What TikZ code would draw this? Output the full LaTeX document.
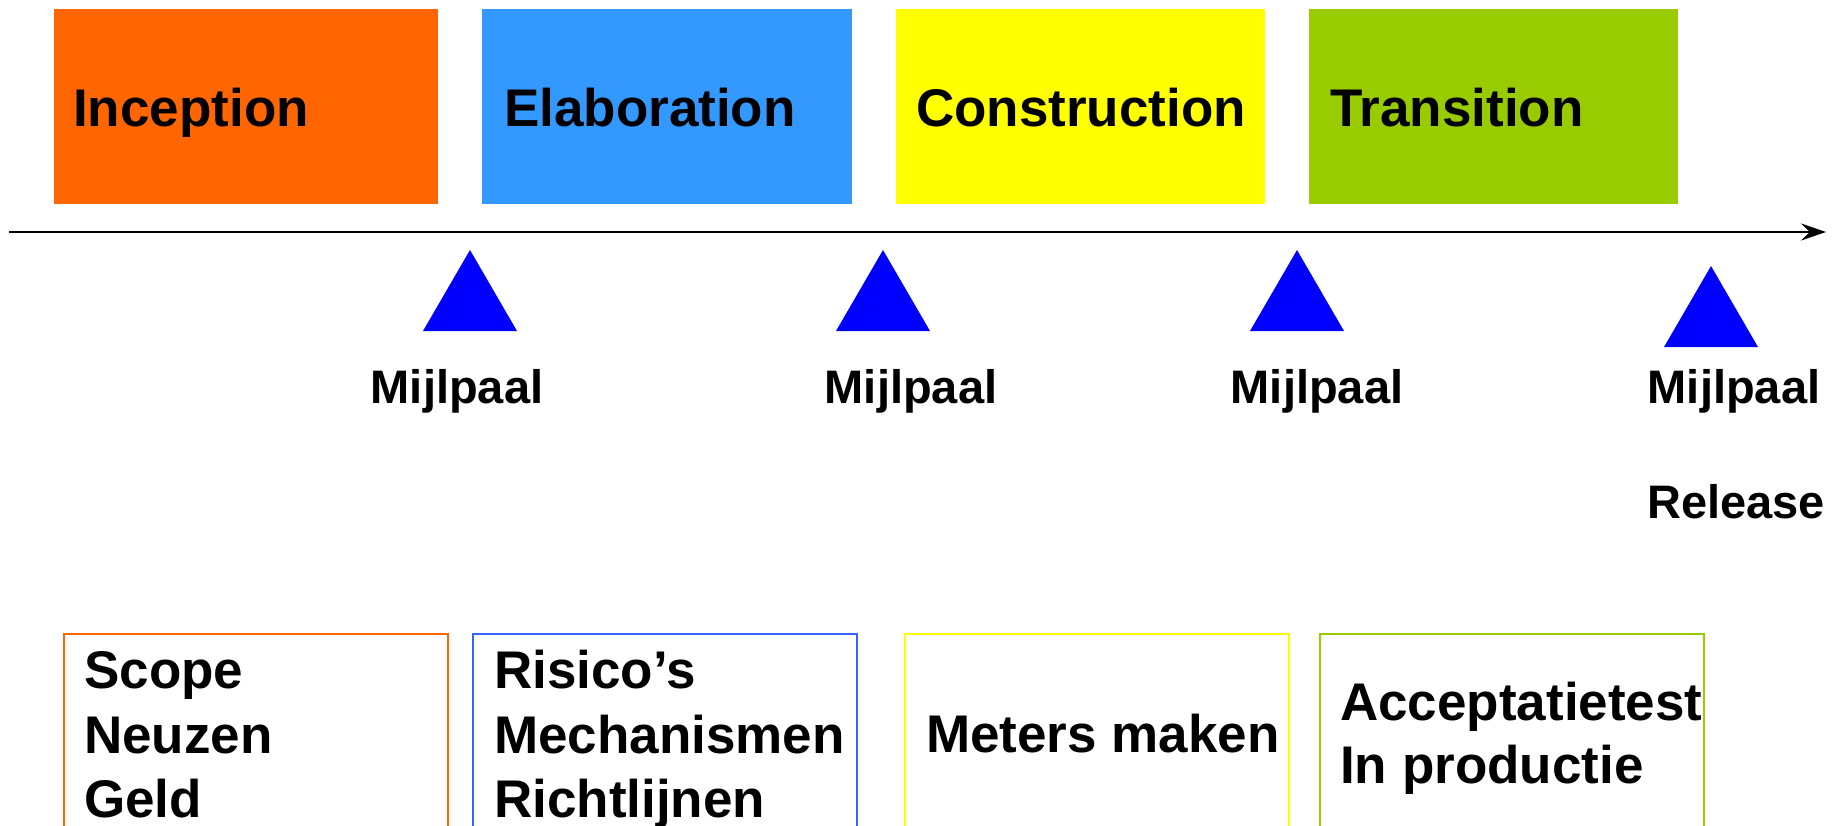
\documentclass[tikz,border=0pt]{standalone}
\usepackage{fontspec}
\setmainfont{Liberation Sans}
\usetikzlibrary{arrows.meta}
\definecolor{incep}{HTML}{FF6600}
\definecolor{elab}{HTML}{3399FF}
\definecolor{elabline}{HTML}{3366FF}
\definecolor{constr}{HTML}{FFFF00}
\definecolor{trans}{HTML}{99CC00}
\definecolor{mile}{HTML}{0000FF}
\tikzset{
  phase/.style={fill=#1, draw=none},
  phaselabel/.style={anchor=base west, inner sep=0pt, font=\fontsize{53}{64}\selectfont\bfseries},
  taskbox/.style={draw=#1, line width=2pt, fill=white},
  tasklabel/.style={anchor=base west, inner sep=0pt, font=\fontsize{53}{64}\selectfont\bfseries},
  milestone/.style={fill=mile},
  milelabel/.style={anchor=base, inner sep=0pt, font=\fontsize{47}{56}\selectfont\bfseries},
}
\begin{document}
\begin{tikzpicture}[x=1pt, y=-1pt]
  \useasboundingbox (0,0) rectangle (1839,826);
  \clip (0,0) rectangle (1839,826);

  % phases
  \fill[phase=incep]  (54,9)   rectangle (438,204);
  \fill[phase=elab]   (482,9)  rectangle (852,204);
  \fill[phase=constr] (896,9)  rectangle (1265,204);
  \fill[phase=trans]  (1309,9) rectangle (1678,204);
  \node[phaselabel] (inc)  at (73,127)   {Inception};
  \node[phaselabel] (ela)  at (504,127)  {Elaboration};
  \node[phaselabel] (con)  at (916,127)  {Construction};
  \node[phaselabel] (tra)  at (1330,127) {Transition};

  % time axis
  \coordinate (t0) at (9,232);
  \coordinate (t1) at (1826,232);
  \draw[line width=2.5pt, -{Stealth[length=25pt, width=17pt, inset=9pt]}] (t0) -- (t1);

  % milestones
  \fill[milestone] (423,331) -- (470,250) -- (517,331) -- cycle;
  \fill[milestone] (836,331) -- (883,250) -- (930,331) -- cycle;
  \fill[milestone] (1250,331) -- (1297,250) -- (1344,331) -- cycle;
  \fill[milestone] (1664,347) -- (1711,266) -- (1758,347) -- cycle;
  \node[milelabel] (m1) at (457,403)  {Mijlpaal};
  \node[milelabel] (m2) at (911,403)  {Mijlpaal};
  \node[milelabel] (m3) at (1317,403) {Mijlpaal};
  \node[milelabel] (m4) at (1734,403) {Mijlpaal};
  \node[milelabel] (rel) at (1736,518) {Release};

  % activities per phase
  \draw[taskbox=incep]     (64,634)   rectangle (448,850);
  \draw[taskbox=elabline]  (473,634)  rectangle (857,850);
  \draw[taskbox=constr]    (905,634)  rectangle (1289,850);
  \draw[taskbox=trans]     (1320,634) rectangle (1704,850);

  \node[tasklabel] (a1) at (84,688)  {Scope};
  \node[tasklabel] (a2) at (84,753)  {Neuzen};
  \node[tasklabel] (a3) at (84,817)  {Geld};
  \node[tasklabel] (b1) at (494,688) {Risico’s};
  \node[tasklabel] (b2) at (494,753) {Mechanismen};
  \node[tasklabel] (b3) at (494,817) {Richtlijnen};
  \node[tasklabel] (c1) at (926,752) {Meters maken};
  \node[tasklabel] (d1) at (1340,720) {Acceptatietest};
  \node[tasklabel] (d2) at (1340,783) {In productie};
\end{tikzpicture}
\end{document}
